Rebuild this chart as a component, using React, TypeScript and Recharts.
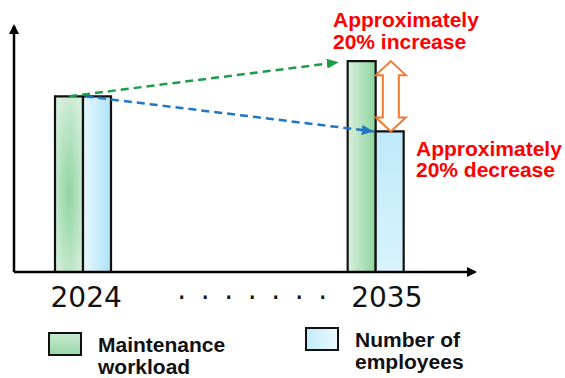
import { BarChart, Bar, Cell, XAxis, YAxis, Legend, ReferenceLine } from "recharts";

// Chart: maintenance workload vs number of employees, 2024 -> 2035 (index 2024 = 100)

const W = 565;
const H = 378;

const YEARS = ["2024", "gap", "2035"];
const TICK_LABELS = ["2024", "·······", "2035"];
const MAINTENANCE = [100, null, 120];
const EMPLOYEES = [100, null, 80];
const SERIES_NAMES = ["Maintenance workload", "Number of employees"];
const NOTE_UP = ["Approximately", "20% increase"];
const NOTE_DOWN = ["Approximately", "20% decrease"];

const rows = YEARS.map((year, i) => ({ year, maint: MAINTENANCE[i], staff: EMPLOYEES[i] }));

const BAR = 28;
const FONT = "'Liberation Sans', Arial, sans-serif";
const RED = "#ff0000";
const GREEN_LINE = "#1f9e4a";
const BLUE_LINE = "#2276c2";
const ORANGE = "#ee7b2f";

const MAINT_FILLS = ["url(#gGreenA)", "none", "url(#gGreenB)"];
const STAFF_FILLS = ["url(#gBlueA)", "none", "url(#gBlueB)"];
const TICK_DX = [3, 30, 11];

const LEGEND_ITEMS: Record<string, { left: number; top: number; bg: string }> = {
  maint: { left: 48, top: 332, bg: "linear-gradient(180deg, #c6ead0 0%, #9bd9aa 100%)" },
  staff: { left: 305, top: 327, bg: "linear-gradient(90deg, #c4ecfb 0%, #e9f8fe 100%)" },
};

function XTick(props: any) {
  const { x, y, index } = props;
  return (
    <text
      x={x + TICK_DX[index]}
      y={y}
      dy={35}
      textAnchor="middle"
      fontFamily="'DejaVu Sans', sans-serif"
      fontSize={28}
      fill="#111"
      letterSpacing={index === 1 ? 14.6 : 0}
    >
      {TICK_LABELS[index]}
    </text>
  );
}

function LegendBox(props: any) {
  const payload = props.payload || [];
  return (
    <div style={{ position: "relative", width: W, height: H, fontFamily: FONT }}>
      {payload.map((p: any) => {
        const it = LEGEND_ITEMS[p.dataKey];
        if (!it) return null;
        return (
          <div key={p.dataKey} style={{ position: "absolute", left: it.left, top: it.top }}>
            <div
              style={{
                position: "absolute", left: 0, top: 0, width: 34, height: 24,
                boxSizing: "border-box", border: "2px solid #111", background: it.bg,
              }}
            />
            <div
              style={{
                position: "absolute", left: 50, top: 2, width: 150,
                fontSize: 21, lineHeight: "22px", fontWeight: 700, color: "#111", textAlign: "left",
              }}
            >
              {p.value}
            </div>
          </div>
        );
      })}
    </div>
  );
}

function DashArrow(p: any) {
  const { x1, y1, x2, y2, color, marker, dx1, dx2, dy2 } = p;
  return (
    <line
      x1={x1 + dx1} y1={y1} x2={x2 + dx2} y2={y2 + dy2}
      stroke={color} strokeWidth={2.5} strokeDasharray="8 5"
      markerEnd={`url(#${marker})`}
    />
  );
}

function DoubleArrow(p: any) {
  const { x1, y1, y2 } = p;
  const cx = x1 + BAR / 2 + 1;
  const top = Math.min(y1, y2);
  const bot = Math.max(y1, y2);
  const hw = 15, sw = 8, hh = 14;
  const pts = [
    [cx, top], [cx + hw, top + hh], [cx + sw, top + hh], [cx + sw, bot - hh], [cx + hw, bot - hh],
    [cx, bot], [cx - hw, bot - hh], [cx - sw, bot - hh], [cx - sw, top + hh], [cx - hw, top + hh],
  ].map((q) => q.join(",")).join(" ");
  return <polygon points={pts} fill="#fff" stroke={ORANGE} strokeWidth={2} strokeLinejoin="miter" />;
}

export default function App() {
  return (
    <div style={{ position: "absolute", left: 0, top: 0, width: W, height: H, background: "#fff", fontFamily: FONT }}>
      <BarChart width={W} height={H} data={rows} margin={{ top: 26, right: 90, bottom: 76, left: 10 }} barGap={0}>
        <defs>
          <marker id="axisArrow" viewBox="0 0 10 10" refX={8} refY={5} markerWidth={10} markerHeight={10}
            markerUnits="userSpaceOnUse" orient="auto-start-reverse">
            <path d="M0,0 L10,5 L0,10 z" fill="#000" />
          </marker>
          <marker id="arrowGreen" viewBox="0 0 12 10" refX={12} refY={5} markerWidth={12} markerHeight={10}
            markerUnits="userSpaceOnUse" orient="auto">
            <path d="M0,0 L12,5 L0,10 z" fill={GREEN_LINE} />
          </marker>
          <marker id="arrowBlue" viewBox="0 0 12 10" refX={12} refY={5} markerWidth={12} markerHeight={10}
            markerUnits="userSpaceOnUse" orient="auto">
            <path d="M0,0 L12,5 L0,10 z" fill={BLUE_LINE} />
          </marker>
          <radialGradient id="gGreenA" cx="0.5" cy="0.55" r="0.6">
            <stop offset="0%" stopColor="#8fd4a0" />
            <stop offset="100%" stopColor="#d3eed9" />
          </radialGradient>
          <linearGradient id="gGreenB" x1="0" y1="0" x2="1" y2="0">
            <stop offset="0%" stopColor="#daf0de" />
            <stop offset="100%" stopColor="#8dd49d" />
          </linearGradient>
          <linearGradient id="gBlueA" x1="0" y1="0" x2="1" y2="0">
            <stop offset="0%" stopColor="#e8f7fd" />
            <stop offset="100%" stopColor="#ade3f8" />
          </linearGradient>
          <linearGradient id="gBlueB" x1="0" y1="0" x2="0" y2="1">
            <stop offset="0%" stopColor="#bfe9fa" />
            <stop offset="100%" stopColor="#d8f3fc" />
          </linearGradient>
        </defs>
        <XAxis
          dataKey="year"
          interval={0}
          padding={{ left: -4, right: 26 }}
          tickLine={false}
          tickSize={0}
          tickMargin={0}
          tick={<XTick />}
          axisLine={{ stroke: "#000", strokeWidth: 2.5, markerEnd: "url(#axisArrow)" }}
        />
        <YAxis
          width={4}
          domain={[0, 140]}
          tick={false}
          tickLine={false}
          axisLine={{ stroke: "#000", strokeWidth: 2.5, markerStart: "url(#axisArrow)" }}
        />
        <Bar dataKey="maint" name={SERIES_NAMES[0]} barSize={BAR} stroke="#111" strokeWidth={2.2} isAnimationActive={false}>
          {rows.map((_, i) => <Cell key={i} fill={MAINT_FILLS[i]} />)}
        </Bar>
        <Bar dataKey="staff" name={SERIES_NAMES[1]} barSize={BAR} stroke="#111" strokeWidth={2.2} isAnimationActive={false}>
          {rows.map((_, i) => <Cell key={i} fill={STAFF_FILLS[i]} />)}
        </Bar>
        <ReferenceLine
          segment={[{ x: YEARS[0], y: MAINTENANCE[0] as number }, { x: YEARS[2], y: MAINTENANCE[2] as number }]}
          shape={(p: any) => <DashArrow {...p} color={GREEN_LINE} marker="arrowGreen" dx1={-BAR / 2} dx2={-BAR - 9} dy2={1} />}
        />
        <ReferenceLine
          segment={[{ x: YEARS[0], y: EMPLOYEES[0] as number }, { x: YEARS[2], y: EMPLOYEES[2] as number }]}
          shape={(p: any) => <DashArrow {...p} color={BLUE_LINE} marker="arrowBlue" dx1={2} dx2={-2} dy2={0} />}
        />
        <ReferenceLine
          segment={[{ x: YEARS[2], y: MAINTENANCE[2] as number }, { x: YEARS[2], y: EMPLOYEES[2] as number }]}
          shape={(p: any) => <DoubleArrow {...p} />}
        />
        <text fontFamily={FONT} fontSize={21} fontWeight={700} fill={RED}>
          <tspan x={333} y={27}>{NOTE_UP[0]}</tspan>
          <tspan x={333} y={49}>{NOTE_UP[1]}</tspan>
        </text>
        <text fontFamily={FONT} fontSize={21} fontWeight={700} fill={RED}>
          <tspan x={416} y={156}>{NOTE_DOWN[0]}</tspan>
          <tspan x={416} y={177}>{NOTE_DOWN[1]}</tspan>
        </text>
        <Legend
          layout="vertical"
          align="center"
          verticalAlign="middle"
          wrapperStyle={{ left: 0, top: 0, width: W, height: H, pointerEvents: "none" }}
          content={<LegendBox />}
        />
      </BarChart>
    </div>
  );
}
